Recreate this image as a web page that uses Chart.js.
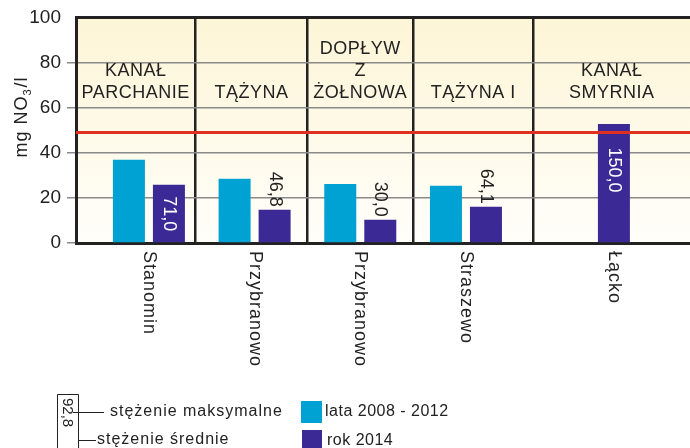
<!DOCTYPE html>
<html>
<head>
<meta charset="utf-8">
<script src="https://cdn.jsdelivr.net/npm/chart.js@4/dist/chart.umd.min.js"></script>
<style>
body{margin:0;background:#fff;}
#box{width:690px;height:448px;position:relative;}
</style>
</head>
<body>
<div id="box"><canvas id="grafico"></canvas></div>
<script>
// punkty pomiarowe
const kategorie = ["Stanomin", "Przybranowo", "Przybranowo", "Straszewo", "Łącko"];
const cieki = [["KANAŁ", "PARCHANIE"], ["TĄŻYNA"], ["DOPŁYW", "Z", "ŻOŁNOWA"], ["TĄŻYNA I"], ["KANAŁ", "SMYRNIA"]];

// stezenie srednie mg NO3/l
const lata2008_2012 = [36.9, 28.5, 26.2, 25.4, null];
const rok2014 = [25.8, 14.7, 10.3, 16.1, 52.8];
// stezenie maksymalne 2014
const maks2014 = [71.0, 46.8, 30.0, 64.1, 150.0];

const norma = 49;
const osY = [0, 20, 40, 60, 80, 100];

// polozenie grup na osi x i granice miedzy ciekami
const pozycje = [1, 2, 3, 4, 5.4];
const granice = [1.44, 2.5, 3.5, 4.64];

const FONT = "'Liberation Sans', Arial, sans-serif";
const CZARNY = "#222";

function liczba(v){
return v.toFixed(1).replace(".", ",");
}

const tlo = {
id:"tlo",
beforeDraw(chart){
const {ctx, chartArea:a} = chart;
const g = ctx.createLinearGradient(0, a.top, 0, a.bottom);
g.addColorStop(0, "#fdf5d6");
g.addColorStop(1, "#fffefa");
ctx.save();
ctx.fillStyle = g;
ctx.fillRect(a.left, a.top, a.right - a.left, a.bottom - a.top);
ctx.restore();
}
};

const opisy = {
id:"opisy",
afterDatasetsDraw(chart){
const {ctx, chartArea:a} = chart;
const x = chart.scales.x;
const y = chart.scales.y;
ctx.save();

// linia normy
ctx.strokeStyle = "#e0301f";
ctx.lineWidth = 3;
ctx.beginPath();
ctx.moveTo(a.left, y.getPixelForValue(norma));
ctx.lineTo(a.right, y.getPixelForValue(norma));
ctx.stroke();

// nazwy ciekow
const brzegi = [a.left].concat(granice.map(v => x.getPixelForValue(v)), [a.right]);
ctx.fillStyle = CZARNY;
ctx.font = "18px " + FONT;
ctx.letterSpacing = "0.5px";
ctx.textAlign = "center";
ctx.textBaseline = "middle";
cieki.forEach((linie, i) => {
const cx = (brzegi[i] + brzegi[i + 1]) / 2;
const dol = a.top + 76;
linie.forEach((t, j) => {
ctx.fillText(t, cx, dol - (linie.length - 1 - j) * 22);
});
});

// wartosci maksymalne
const meta = chart.getDatasetMeta(1);
ctx.font = "18px " + FONT;
ctx.letterSpacing = "0px";
meta.data.forEach((bar, i) => {
const t = liczba(maks2014[i]);
const w = ctx.measureText(t).width;
const h = bar.base - bar.y;
ctx.save();
ctx.translate(bar.x, 0);
ctx.rotate(Math.PI / 2);
ctx.textBaseline = "middle";
ctx.textAlign = "left";
if(h > w + 20){
ctx.fillStyle = "#fff";
ctx.fillText(t, bar.y + h * 0.2, 0);
}else{
ctx.fillStyle = CZARNY;
ctx.fillText(t, bar.y - 3 - w, 0);
}
ctx.restore();
});

// nazwy punktow pod osia
ctx.font = "18px " + FONT;
ctx.letterSpacing = "1px";
ctx.fillStyle = CZARNY;
kategorie.forEach((k, i) => {
ctx.save();
ctx.translate(x.getPixelForValue(pozycje[i]), a.bottom + 8);
ctx.rotate(Math.PI / 2);
ctx.textAlign = "left";
ctx.textBaseline = "middle";
ctx.fillText(k, 0, 0);
ctx.restore();
});

// tytul osi y
ctx.save();
ctx.translate(22, 117);
ctx.rotate(-Math.PI / 2);
ctx.letterSpacing = "1px";
ctx.textBaseline = "middle";
ctx.textAlign = "left";
const t1 = "mg NO", t3 = "/l";
ctx.font = "18px " + FONT;
const w1 = ctx.measureText(t1).width;
const w3 = ctx.measureText(t3).width;
ctx.font = "11px " + FONT;
const w2 = ctx.measureText("3").width;
let px = -(w1 + w2 + w3 + 1) / 2;
ctx.font = "18px " + FONT;
ctx.fillText(t1, px, 0);
px += w1;
ctx.font = "11px " + FONT;
ctx.fillText("3", px, 6);
px += w2 + 1;
ctx.font = "18px " + FONT;
ctx.fillText(t3, px, 0);
ctx.restore();

// legenda
ctx.strokeStyle = CZARNY;
ctx.lineWidth = 1;
ctx.beginPath();
ctx.moveTo(57.5, 460);
ctx.lineTo(57.5, 394.5);
ctx.lineTo(78.5, 394.5);
ctx.lineTo(78.5, 460);
ctx.moveTo(73, 412.5);
ctx.lineTo(104, 412.5);
ctx.moveTo(78.5, 440.5);
ctx.lineTo(96, 440.5);
ctx.stroke();

ctx.save();
ctx.translate(67, 398);
ctx.rotate(Math.PI / 2);
ctx.font = "15px " + FONT;
ctx.letterSpacing = "0px";
ctx.textAlign = "left";
ctx.textBaseline = "middle";
ctx.fillText(liczba(92.8), 0, 0);
ctx.restore();

ctx.font = "16px " + FONT;
ctx.letterSpacing = "1px";
ctx.textAlign = "left";
ctx.textBaseline = "middle";
ctx.fillText("stężenie maksymalne", 110, 412);
ctx.fillText("stężenie średnie", 97, 440);

ctx.fillStyle = chart.data.datasets[0].backgroundColor;
ctx.fillRect(301, 401, 21, 22);
ctx.fillStyle = chart.data.datasets[1].backgroundColor;
ctx.fillRect(302, 430, 20, 22);
ctx.fillStyle = CZARNY;
ctx.letterSpacing = "0.5px";
ctx.fillText(chart.data.datasets[0].label, 325, 412);
ctx.fillText(chart.data.datasets[1].label, 327, 441);

ctx.restore();
}
};

const ctx = document.getElementById("grafico");

new Chart(ctx, {
type:"bar",
data:{
datasets:[{
label:"lata 2008 - 2012",
data:pozycje.map((p, i) => ({x:p, y:lata2008_2012[i]})),
backgroundColor:"#00a2d3",
skipNull:true
},{
label:"rok 2014",
data:pozycje.map((p, i) => ({x:p, y:rok2014[i]})),
backgroundColor:"#3b2a96",
skipNull:true
}]
},
plugins:[tlo, opisy],
options:{
responsive:true,
maintainAspectRatio:false,
animation:false,
categoryPercentage:0.757,
barPercentage:0.8,
maxBarThickness:32,
layout:{padding:{top:17, right:0, bottom:205, left:0}},
plugins:{legend:{display:false}, tooltip:{enabled:false}},
scales:{
x:{
type:"linear",
offset:false,
min:0.31,
max:6.12,
afterBuildTicks(s){ s.ticks = granice.map(v => ({value:v})); },
afterFit(s){ s.height = 0; },
ticks:{display:false},
grid:{offset:false, color:CZARNY, lineWidth:2.5, drawTicks:false},
border:{color:CZARNY, width:3}
},
y:{
min:0,
max:100,
afterBuildTicks(s){ s.ticks = osY.map(v => ({value:v})); },
afterFit(s){ s.width = 76; },
ticks:{
padding:6,
color:CZARNY,
font:{family:FONT, size:19}
},
grid:{
tickLength:9,
color:c => c.tick && c.tick.value === 100 ? CZARNY : "#8a8a8a",
tickColor:c => c.tick && c.tick.value === 100 ? "transparent" : "#8a8a8a",
lineWidth:c => c.tick && c.tick.value === 100 ? 3 : 1.5
},
border:{color:CZARNY, width:3}
}
}
}
});
</script>
</body>
</html>
